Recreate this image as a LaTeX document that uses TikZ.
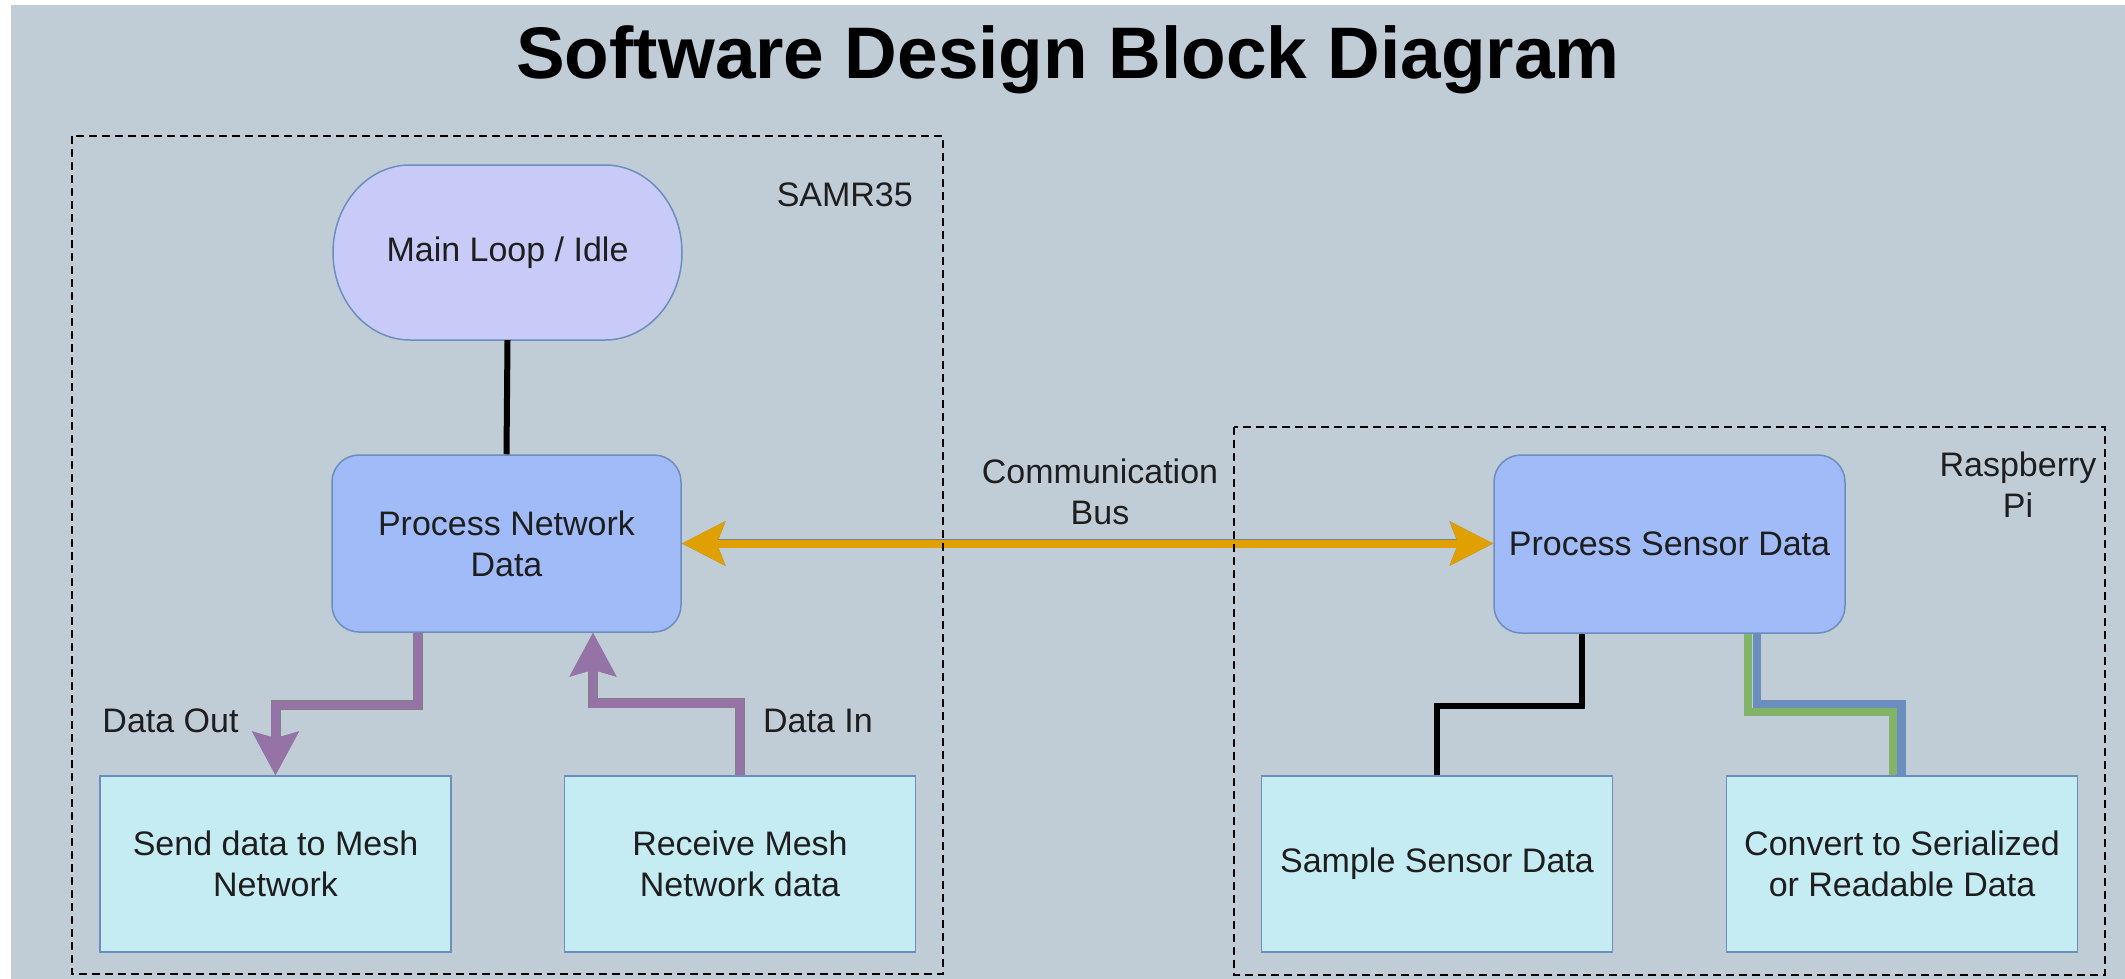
\documentclass[tikz,border=0pt]{standalone}
\usepackage{fontspec}
\setmainfont{Liberation Sans}
\usetikzlibrary{arrows.meta,calc}
\definecolor{bgc}{RGB}{192,205,215}
\definecolor{mlfill}{RGB}{200,203,248}
\definecolor{pfill}{RGB}{160,187,247}
\definecolor{lfill}{RGB}{197,235,243}
\definecolor{bstroke}{RGB}{108,142,191}
\definecolor{txt}{RGB}{30,30,30}
\definecolor{orangec}{RGB}{223,160,0}
\definecolor{purplec}{RGB}{150,115,166}
\definecolor{greenc}{RGB}{130,179,102}
\definecolor{bluec}{RGB}{108,142,191}
\definecolor{edgec}{RGB}{128,128,128}
\tikzset{
  basefont/.style={font=\fontsize{34}{41}\selectfont, text=txt},
  pbox/.style={basefont, draw=bstroke, fill=pfill, line width=1.5pt, rounded corners=27pt,
    inner sep=0pt, align=center, minimum width=349pt, minimum height=177pt},
  lbox/.style={basefont, draw=bstroke, fill=lfill, line width=1.5pt,
    inner sep=0pt, align=center, minimum width=351pt, minimum height=176pt},
  mlnode/.style={basefont, inner sep=0pt, align=center, minimum width=349pt, minimum height=175pt},
  mlshape/.style={draw=bstroke, fill=mlfill, line width=1.5pt},
  lbl/.style={basefont, inner sep=0pt, align=center},
  group/.style={draw=black, line width=2pt, dash pattern=on 8pt off 5pt},
  busline/.style={draw=orangec, line width=8pt,
    preaction={draw=edgec, line width=9.5pt},
    {Stealth[length=43pt, width=43pt, inset=8pt]}-{Stealth[length=43pt, width=43pt, inset=8pt]}},
  dataline/.style={draw=purplec, line width=8.5pt,
    preaction={draw=edgec, line width=10pt},
    -{Stealth[length=43pt, width=45pt, inset=6pt]}},
  blackline/.style={draw=black, line width=6pt},
  blueline/.style={draw=bluec, line width=8.5pt},
  greenline/.style={draw=greenc, line width=8pt},
}
\begin{document}
\begin{tikzpicture}[x=1pt,y=-1pt]
\useasboundingbox (0,0) rectangle (2125,979);
\fill[white] (0,0) rectangle (2125,979);
\fill[bgc] (11,5) rectangle (2125,979);

% title
\node[anchor=base, font=\fontsize{73}{88}\selectfont\bfseries, text=black, inner sep=0pt] (title) at (1068,79) {Software Design Block Diagram};

% main loop shape
\path[mlshape] (410,165) -- (605,165) .. controls (647.5,165) and (682,204.2) .. (682,252.5)
  .. controls (682,300.8) and (647.5,340) .. (605,340) -- (410,340)
  .. controls (367.5,340) and (333,300.8) .. (333,252.5)
  .. controls (333,204.2) and (367.5,165) .. (410,165) -- cycle;
\node[mlnode] (ml) at (507.5,252.5) {Main Loop / Idle};

% blocks
\node[pbox] (pn) at (506.5,543.5) {Process Network\\Data};
\node[pbox, minimum width=351pt, minimum height=178pt] (ps) at (1669.5,544) {Process Sensor Data};
\node[lbox] (send) at (275.5,864) {Send data to Mesh\\Network};
\node[lbox] (recv) at (740,864) {Receive Mesh\\Network data};
\node[lbox] (sample) at (1437,864) {Sample Sensor Data};
\node[lbox] (conv) at (1902,864) {Convert to Serialized\\or Readable Data};

% labels
\node[lbl, anchor=base east] (samr) at (913,206) {SAMR35};
\node[lbl] (rpi) at (2018,485) {Raspberry\\Pi};
\node[lbl] (bus) at (1100,492) {Communication\\Bus};
\node[lbl] (dout) at (170.5,721) {Data Out};
\node[lbl] (din) at (818,721) {Data In};

% connectors
\draw[blackline] (ml.south) -- (pn.north);
\draw[busline] (pn.east) -- (pn.east -| ps.west);
\draw[dataline] ($(pn.south)+(-88.5,0)$) -- ++(0,72) -| (send.north);
\draw[dataline] (recv.north) -- ++(0,-72) -| ($(pn.south)+(86.5,0)$);
\draw[blackline] ($(ps.south)+(-87.5,0)$) -- ++(0,72) -| (sample.north);
\draw[blueline] ($(ps.south)+(87.5,0)$) -- ++(0,70) -| ($(conv.north)+(-0.5,0)$);
\draw[greenline] ($(ps.south)+(78.5,0)$) -- ++(0,78) -| ($(conv.north)+(-9,0)$);

% groups
\draw[group] (72,136) rectangle (943,974);
\draw[group] (1234,427) rectangle (2105,975);
\end{tikzpicture}
\end{document}
